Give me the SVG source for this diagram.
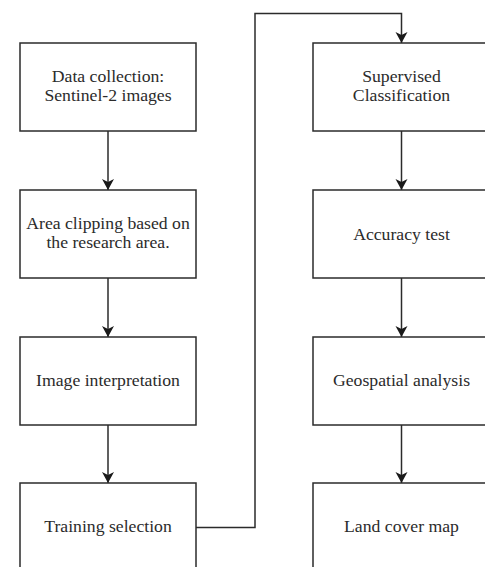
<svg xmlns="http://www.w3.org/2000/svg" width="485" height="567" viewBox="0 0 485 567">
<style>
.box{fill:#fff;stroke:#2b2b2b;stroke-width:1.5}
.lbl{font-family:'Liberation Serif','Times New Roman',serif;font-size:17.7px;fill:#2b2b2b;text-anchor:middle}
.edge{fill:none;stroke:#2b2b2b;stroke-width:1.5}
.head{fill:#1a1a1a}
</style>
<rect width="485" height="567" fill="#fff"/>
<g id="connectors">
<path class="edge" d="M108,131 V190"/>
<path class="head" d="M102,179 L108,182 L114,179 L108,190 Z"/>
<path class="edge" d="M108,278 V337"/>
<path class="head" d="M102,326 L108,329 L114,326 L108,337 Z"/>
<path class="edge" d="M108,424 V483"/>
<path class="head" d="M102,472 L108,475 L114,472 L108,483 Z"/>
<path class="edge" d="M196,527.5 H255 V13.5 H401.5 V43"/>
<path class="head" d="M395.5,32 L401.5,35 L407.5,32 L401.5,43 Z"/>
<path class="edge" d="M401.5,131 V190"/>
<path class="head" d="M395.5,179 L401.5,182 L407.5,179 L401.5,190 Z"/>
<path class="edge" d="M401.5,278 V337"/>
<path class="head" d="M395.5,326 L401.5,329 L407.5,326 L401.5,337 Z"/>
<path class="edge" d="M401.5,424 V483"/>
<path class="head" d="M395.5,472 L401.5,475 L407.5,472 L401.5,483 Z"/>
</g>
<g id="n1"><rect class="box" x="20" y="43" width="176" height="88"/><text class="lbl" x="108" y="82">Data collection:</text><text class="lbl" x="108" y="101">Sentinel-2 images</text></g>
<g id="n2"><rect class="box" x="20" y="190" width="176" height="88"/><text class="lbl" x="108" y="229">Area clipping based on</text><text class="lbl" x="108" y="248">the research area.</text></g>
<g id="n3"><rect class="box" x="20" y="337" width="176" height="88"/><text class="lbl" x="108" y="386">Image interpretation</text></g>
<g id="n4"><rect class="box" x="20" y="483" width="176" height="100"/><text class="lbl" x="108" y="532">Training selection</text></g>
<g id="n5"><rect class="box" x="313" y="43" width="180" height="88"/><text class="lbl" x="401.5" y="82">Supervised</text><text class="lbl" x="401.5" y="101">Classification</text></g>
<g id="n6"><rect class="box" x="313" y="190" width="180" height="88"/><text class="lbl" x="401.5" y="240">Accuracy test</text></g>
<g id="n7"><rect class="box" x="313" y="337" width="180" height="88"/><text class="lbl" x="401.5" y="386">Geospatial analysis</text></g>
<g id="n8"><rect class="box" x="313" y="483" width="180" height="100"/><text class="lbl" x="401.5" y="532">Land cover map</text></g>
</svg>
